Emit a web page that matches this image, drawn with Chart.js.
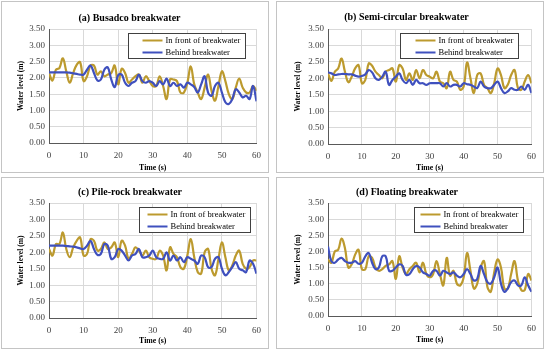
<!DOCTYPE html>
<html>
<head>
<meta charset="utf-8">
<script src="https://cdn.jsdelivr.net/npm/chart.js@4.4.0/dist/chart.umd.min.js"></script>
<style>
  body { margin: 0; background: #fff; width: 550px; height: 352px; position: relative; overflow: hidden; }
  .panel { position: absolute; border: 1px solid #c4c4c4; box-sizing: border-box; background: #fff; }
  .panel canvas { position: absolute; left: 0; top: 0; }
</style>
</head>
<body>
<div class="panel" style="left:1px;top:1px;width:268px;height:172px"><canvas id="chartA" width="266" height="170"></canvas></div>
<div class="panel" style="left:276px;top:1px;width:268px;height:172px"><canvas id="chartB" width="266" height="170"></canvas></div>
<div class="panel" style="left:1px;top:177px;width:268px;height:172px"><canvas id="chartC" width="266" height="170"></canvas></div>
<div class="panel" style="left:276px;top:177px;width:268px;height:172px"><canvas id="chartD" width="266" height="170"></canvas></div>
<script>
// time (s)
const times = [0,1,2,3,4,5,6,7,8,9,10,11,12,13,14,15,16,17,18,19,20,21,22,23,24,25,26,27,28,29,30,
  31,32,33,34,35,36,37,38,39,40,41,42,43,44,45,46,47,48,49,50,51,52,53,54,55,56,57,58,59,60];
const yTicks = ['0.00','0.50','1.00','1.50','2.00','2.50','3.00','3.50'];
const seriesNames = ['In front of breakwater', 'Behind breakwater'];

// (a) Busadco
const frontA = [2.15,1.92,2.25,2.30,2.60,2.20,1.85,2.15,2.40,2.48,1.90,2.05,2.38,2.38,2.10,2.20,2.05,2.10,2.15,2.38,1.80,
  2.28,2.15,1.85,1.95,2.05,2.10,1.85,2.05,1.90,1.75,1.75,2.05,1.75,1.35,1.95,1.95,1.90,1.55,1.55,1.85,
  2.35,1.80,1.55,1.35,1.70,2.10,1.60,1.30,1.75,2.20,1.90,1.50,1.35,1.70,1.98,1.70,1.55,1.55,1.75,1.60];
const behindA = [2.17,2.17,2.17,2.17,2.17,2.17,2.16,2.14,2.12,2.10,2.10,2.25,2.38,2.15,1.92,1.95,2.25,2.32,1.95,1.72,2.08,
  2.10,1.85,1.75,1.85,1.90,2.10,1.90,1.85,1.90,1.85,1.75,1.90,1.80,1.98,1.75,1.85,1.75,1.80,1.70,1.85,
  1.80,1.72,1.55,1.80,2.05,1.55,1.45,1.75,1.85,1.55,1.25,1.20,1.35,1.65,1.55,1.40,1.45,1.35,1.75,1.28];

// (b) Semi-circular
const frontB = [2.15,1.92,2.20,2.30,2.60,2.20,1.88,2.05,2.30,2.40,1.85,1.95,2.45,2.38,2.20,2.10,2.00,2.20,2.25,2.30,1.90,
  2.40,2.30,1.95,2.15,1.95,2.25,2.00,2.25,2.10,2.05,2.00,2.20,1.90,1.85,1.70,2.20,1.95,1.90,1.65,1.75,
  2.48,2.00,1.55,2.10,2.15,1.80,1.70,1.55,1.85,2.30,2.10,1.70,1.80,2.10,2.25,1.70,1.65,1.90,2.10,1.85];
const behindB = [2.18,2.15,2.10,2.12,2.13,2.13,2.12,2.12,2.08,2.05,2.07,2.12,2.25,2.18,2.00,1.95,2.05,2.20,1.80,1.95,2.05,
  2.15,1.95,1.85,1.95,1.80,1.95,1.85,1.85,1.80,1.85,1.85,1.85,1.85,1.75,1.85,1.75,1.80,1.80,1.75,1.85,
  1.82,1.80,1.75,1.70,1.90,1.75,1.70,1.70,1.80,1.90,1.70,1.55,1.60,1.70,1.65,1.65,1.75,1.65,1.80,1.55];

// (c) Pile-rock
const frontC = [2.10,1.90,2.25,2.25,2.60,2.10,1.85,2.15,2.35,2.45,1.90,1.95,2.40,2.35,2.05,2.10,2.30,2.10,2.15,2.30,1.85,
  2.35,2.20,1.80,1.95,2.15,2.05,1.90,2.05,1.85,1.80,1.80,2.05,1.90,1.45,2.15,1.95,1.85,1.55,1.50,1.90,
  2.40,1.85,1.40,1.35,2.00,2.10,1.50,1.30,1.80,2.30,1.85,1.45,1.60,1.90,2.05,1.65,1.50,1.55,1.75,1.75];
const behindC = [2.20,2.20,2.20,2.20,2.20,2.19,2.18,2.17,2.15,2.12,2.10,2.20,2.35,2.10,1.92,1.95,2.25,2.20,1.80,1.85,2.10,
  2.05,1.90,1.75,1.90,1.95,2.10,1.85,1.85,1.90,2.05,1.85,1.80,1.80,2.00,1.75,1.90,1.75,1.85,1.70,1.85,
  1.80,1.75,1.65,1.90,1.85,1.55,1.55,1.80,1.85,1.50,1.30,1.40,1.55,1.70,1.50,1.45,1.40,1.75,1.65,1.35];

// (d) Floating
const frontD = [1.75,1.65,2.00,2.05,2.40,2.10,1.50,1.60,1.90,2.05,1.45,1.45,1.85,1.80,1.50,1.40,1.45,1.55,1.60,1.70,1.15,
  1.85,1.50,1.30,1.45,1.55,1.65,1.35,1.65,1.30,1.20,1.30,1.70,1.30,0.95,1.80,1.25,1.40,1.00,0.95,1.20,
  1.95,1.40,0.85,1.00,1.50,1.70,0.90,0.75,1.35,1.75,1.50,0.85,0.85,1.30,1.70,1.10,0.80,0.80,1.30,1.10];
const behindD = [2.15,1.70,1.65,1.75,1.80,1.70,1.65,1.65,1.70,1.62,1.65,1.85,1.95,1.65,1.45,1.50,1.85,1.85,1.40,1.40,1.50,
  1.60,1.55,1.28,1.30,1.45,1.55,1.50,1.35,1.30,1.25,1.40,1.40,1.25,1.40,1.35,1.30,1.35,1.25,1.20,1.30,
  1.45,1.30,1.10,1.15,1.55,1.30,1.05,1.00,1.20,1.50,1.00,0.75,0.85,1.05,1.10,0.95,0.95,1.20,0.95,0.75];

const serif = '"Liberation Serif", "Times New Roman", serif';
const gold = '#BC9A2E';
const blue = '#3F50BE';

// legend drawn as a framed box inside the plot area, like the Excel original
const boxLegend = {
  id: 'boxLegend',
  afterDatasetsDraw(chart, args, opts) {
    const { ctx, chartArea } = chart;
    ctx.save();
    ctx.font = '8.5px ' + serif;
    const sets = chart.data.datasets;
    const tw = Math.max(...sets.map(d => ctx.measureText(d.label).width));
    const w = Math.round(opts.padLeft + 20 + 3 + tw + 5);
    const h = 25;
    const x = Math.round(chartArea.right - opts.gapRight - w) + 0.5;
    const y = Math.round(chartArea.top + 4) + 0.5;
    ctx.fillStyle = '#fff';
    ctx.fillRect(x, y, w, h);
    ctx.strokeStyle = '#404040';
    ctx.lineWidth = 1;
    ctx.strokeRect(x, y, w, h);
    sets.forEach((d, i) => {
      const cy = y + 7 + i * 12;
      ctx.strokeStyle = d.borderColor;
      ctx.lineWidth = 2;
      ctx.beginPath();
      ctx.moveTo(x + opts.padLeft, cy);
      ctx.lineTo(x + opts.padLeft + 20, cy);
      ctx.stroke();
      ctx.fillStyle = '#000';
      ctx.textBaseline = 'middle';
      ctx.fillText(d.label, x + opts.padLeft + 23, cy);
    });
    ctx.restore();
  }
};

function makeChart(id, title, front, behind, lay) {
  new Chart(document.getElementById(id), {
    type: 'line',
    data: {
      labels: times,
      datasets: [
        { label: seriesNames[0], data: front, borderColor: gold, borderWidth: 2.2, pointRadius: 0, tension: 0.4, order: 1 },
        { label: seriesNames[1], data: behind, borderColor: blue, borderWidth: 2.2, pointRadius: 0, tension: 0.4, order: 0 }
      ]
    },
    options: {
      responsive: false,
      animation: false,
      layout: { padding: { left: 0, right: lay.padRight, top: 0, bottom: 0 } },
      plugins: {
        legend: { display: false },
        tooltip: { enabled: false },
        title: {
          display: true, text: title, color: '#000',
          font: { family: serif, size: 10, weight: 'bold', lineHeight: 1.2 },
          padding: { top: lay.titleTop, bottom: lay.titleBottom }
        },
        boxLegend: { gapRight: lay.gapRight, padLeft: lay.padLeft }
      },
      scales: {
        x: {
          type: 'linear', min: 0, max: 60,
          ticks: { stepSize: 10, color: '#404040', font: { family: serif, size: 9 }, padding: 7, maxRotation: 0 },
          grid: { color: '#d9d9d9', drawTicks: false },
          border: { color: '#595959' },
          title: { display: true, text: 'Time (s)', color: '#000',
                   font: { family: serif, size: 7.8, weight: 'bold', lineHeight: 1 },
                   padding: { top: 0, bottom: lay.xTitleBottom } },
          afterFit: s => { s.height = lay.xh; }
        },
        y: {
          min: 0, max: 3.5,
          ticks: { stepSize: 0.5, color: '#404040', font: { family: serif, size: 9 }, padding: 4,
                   callback: (v, i) => yTicks[i] },
          grid: { color: '#d9d9d9', drawTicks: false },
          border: { color: '#595959' },
          title: { display: true, text: 'Water level (m)', color: '#000',
                   font: { family: serif, size: 7.6, weight: 'bold', lineHeight: 1 },
                   padding: { top: lay.yTitleLeft, bottom: 0 } },
          afterFit: s => { s.width = lay.yw; }
        }
      }
    },
    plugins: [boxLegend]
  });
}

makeChart('chartA', '(a) Busadco breakwater', frontA, behindA,
  { padRight: 11, titleTop: 10, titleBottom: 5, xh: 29, xTitleBottom: 0, yw: 47, yTitleLeft: 15, gapRight: 12, padLeft: 14 });
makeChart('chartB', '(b) Semi-circular breakwater', frontB, behindB,
  { padRight: 7, titleTop: 9, titleBottom: 6, xh: 28, xTitleBottom: 0, yw: 51, yTitleLeft: 17, gapRight: 14, padLeft: 15 });
makeChart('chartC', '(c) Pile-rock breakwater', frontC, behindC,
  { padRight: 10, titleTop: 8, titleBottom: 5, xh: 30, xTitleBottom: 3, yw: 47, yTitleLeft: 15, gapRight: 7, padLeft: 8 });
makeChart('chartD', '(d) Floating breakwater', frontD, behindD,
  { padRight: 6, titleTop: 8, titleBottom: 5, xh: 32, xTitleBottom: 4, yw: 51, yTitleLeft: 17, gapRight: 9, padLeft: 6 });
</script>
</body>
</html>
